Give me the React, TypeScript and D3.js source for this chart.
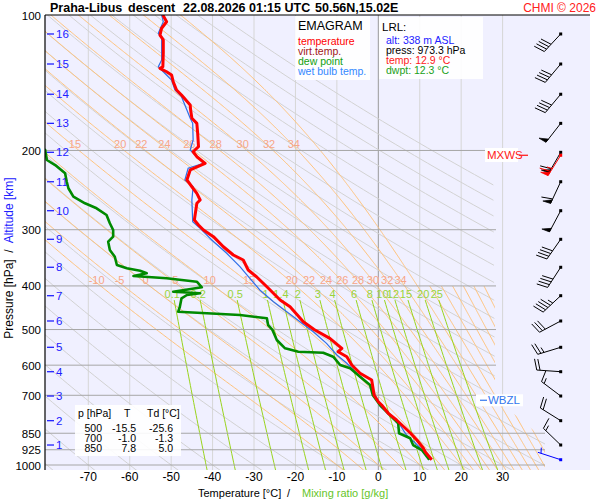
import React from 'react';
import * as d3 from 'd3';

// ---------- DATA ----------
const tempP = [100,103.5,107,110.8,113.6,121.5,130.3,131.4,133.7,135.9,140.7,146.8,150.6,158.5,162.6,169.6,174.1,183.2,196.2,201.3,206.5,213.6,221,232.6,240.8,249,257.7,262.1,285.5,292.9,300.5,310.9,327.3,341.5,350.3,368.7,381.6,401.6,429.9,444.9,480.4,500,523,550.4,560,574.6,599.5,625.5,647.3,700,723.4,735.7,767.6,794.4,850,879.9,918.1,934.3,973.3];
const tempT = [-52.0,-51.1,-52.3,-52.7,-51.9,-51.9,-52.0,-52.7,-51.1,-49.9,-49.5,-48.7,-47.5,-45.4,-45.3,-45.0,-43.8,-43.6,-43.4,-44.7,-43.8,-41.8,-45.4,-46.2,-45.0,-43.8,-43.0,-43.8,-44.4,-43.4,-42.2,-39.8,-37.4,-35.0,-32.6,-31.4,-29.4,-26.9,-23.7,-21.3,-18.1,-15.5,-11.7,-8.8,-9.7,-7.6,-6.4,-4.4,-1.6,-1.0,0.0,0.8,2.4,4.4,7.8,9.3,10.9,11.3,12.9];

const dewP = [196,199.5,210,215.5,224.8,234.7,242.7,253.4,262.1,268.9,278.3,290.3,300.5,310.9,319,332.8,344.5,359.4,365.5,370,375,380.2,384.7,391.5,402.9,412,415.4,419,426.1,444.9,456.4,460.2,464.2,472.1,488.6,500,527.5,550.4,560,562.9,574.6,599.5,609.7,636.5,664.1,700,735.7,774.4,808,850,872.3,902.8,926.2,973.3];
const dewT = [-82.0,-80.4,-80.0,-78.0,-75.6,-75.2,-74.8,-73.6,-70.8,-68.0,-65.6,-64.8,-64.0,-64.0,-65.2,-64.8,-63.6,-63.1,-60.7,-57.5,-55.9,-59.1,-51.1,-43.8,-42.6,-49.5,-43.0,-46.2,-47.5,-47.9,-48.3,-41.4,-33.4,-26.9,-26.6,-25.6,-24.5,-22.5,-19.3,-13.3,-10.9,-9.2,-6.8,-4.4,-2.0,-1.3,0.4,2.8,4.8,5.0,7.7,8.4,10.5,12.3];

const wbP = [100,103.5,109.8,112.6,125.9,130.3,133.7,139.5,146.8,151.9,162.6,169.6,174.1,189.6,199.5,213.6,219.1,232.6,240.8,257.7,288,297.9,316.2,338.5,362.5,384.7,408.4,433.6,456.4,480.4,505.6,536.5,569.6,594.3,625.5,670,742.1,808,857.8,887.7,926.2,973.3];
const wbT = [-52.3,-51.9,-53.1,-52.3,-52.3,-53.1,-51.9,-49.9,-49.1,-47.5,-46.2,-45.4,-44.8,-44.7,-45.4,-42.2,-45.9,-46.7,-44.7,-45.0,-44.8,-43.0,-40.2,-36.6,-33.4,-31.0,-28.6,-25.3,-22.1,-18.9,-15.7,-12.5,-10.0,-7.6,-5.2,-1.6,0.5,5.0,6.8,8.6,10.6,12.5];

const altKm = [1,2,3,4,5,6,7,8,9,10,11,12,13,14,15,16];
const altP = [902.8,797.1,702.6,620.4,547.6,478.6,420.5,363.6,315.1,272.2,234.7,201.9,174.1,150.0,128.5,110.2];

const windP = [973.3,902.8,797.1,702.6,620.4,547.6,478.6,420.5,363.6,315.1,272.2,234.7,201.9,174.1,150.0,128.5,110.2];
const windDir = [288,314,302,307,274,253,242,227,213,215,208,205,210,218,220,220,223];
const windSpd = [5,15,20,15,20,25,30,45,40,40,50,60,60,50,40,40,40];
const mxwsP = 205, mxwsDir = 212, mxwsSpd = 65;
const wbzlP = 718;

const pressureTicks = [100,200,300,400,500,600,700,850,925,1000];
const tempTicks = [-70,-60,-50,-40,-30,-20,-10,0,10,20,30];
const isotherms = [-70,-60,-50,-40,-30,-20,-10,0,10,20,30];
const dryThetaC = d3.range(-80, 181, 10);
const moistThetaW = [-10,-5,0,5,10,15,20,22,24,26,28,30,32,34,36];
const moistThetaWLow = [38,40,42,44,46,48];
const moistLabels400 = [-10,-5,0,5,10,15,20,22,24,26,28,30,32,34];
const moistLabels200 = [15,20,22,24,26,28,30,32,34];
const mixRatios = [0.1,0.2,0.5,1,1.4,2,3,4,6,8,10,12,15,20,25];
const mixLabels = ['0.1','0.2','0.5','1','1.4','2','3','4','6','8','10','12','15','20','25'];

const tableRows = [['500','-15.5','-25.6'],['700','-1.0','-1.3'],['850','7.8','5.0']];

// ---------- SCALES ----------
const x = d3.scaleLinear().domain([-70, 30]).range([88.3, 502.6]);
const y = d3.scaleLog().domain([100, 1000]).range([15, 465]);
const FONT = '"Liberation Sans", Arial, Helvetica, sans-serif';

const esat = (Tc: number) => 6.112 * Math.exp(17.67 * Tc / (Tc + 243.5));
function dTdlnp(p: number, Tk: number) {
  const Rd = 287.04, cp = 1005.7, L = 2.501e6, eps = 0.622;
  const es = esat(Tk - 273.15);
  const rs = eps * es / (p - es);
  return (Rd * Tk + L * rs) / (cp + L * L * rs * eps / (Rd * Tk * Tk));
}
function moistCurve(tw: number): [number, number][] {
  const out: [number, number][] = [];
  const h = 0.005;
  let T = tw + 273.15, lp = Math.log(1000);
  const down: [number, number][] = [];
  while (lp < Math.log(1030)) {
    const k1 = dTdlnp(Math.exp(lp), T);
    const k2 = dTdlnp(Math.exp(lp + h / 2), T + k1 * h / 2);
    T += k2 * h; lp += h;
    down.push([Math.exp(lp), T - 273.15]);
  }
  down.reverse().forEach(d => out.push(d));
  T = tw + 273.15; lp = Math.log(1000);
  out.push([1000, tw]);
  while (lp > Math.log(100)) {
    const k1 = dTdlnp(Math.exp(lp), T);
    const k2 = dTdlnp(Math.exp(lp - h / 2), T - k1 * h / 2);
    T -= k2 * h; lp -= h;
    out.push([Math.exp(lp), T - 273.15]);
  }
  return out;
}
const interpAt = (curve: [number, number][], p: number) => {
  for (let i = 1; i < curve.length; i++) {
    const [p0, t0] = curve[i - 1], [p1, t1] = curve[i];
    if ((p0 - p) * (p1 - p) <= 0) {
      const f = (Math.log(p) - Math.log(p0)) / (Math.log(p1) - Math.log(p0));
      return t0 + f * (t1 - t0);
    }
  }
  return NaN;
};
const logRange = (p0: number, p1: number, n: number) => d3.range(n + 1).map(i => Math.exp(Math.log(p0) + (Math.log(p1) - Math.log(p0)) * i / n));
const mixT = (w: number, p: number) => {
  const e = w * 1e-3 * p / (0.622 + w * 1e-3);
  const l = Math.log(e / 6.112);
  return 243.5 * l / (17.67 - l);
};

const line = d3.line<[number, number]>().x(d => x(d[1])).y(d => y(d[0]));
const zipPT = (P: number[], T: number[]) => P.map((p, i) => [p, T[i]] as [number, number]);

function Barb({ p, dir, spd, color }: { p: number; dir: number; spd: number; color: string }) {
  const px = 560.7, py = y(p);
  const L = 24, fl = 11, sp = 3.3;
  const r = dir * Math.PI / 180;
  const ux = Math.sin(r), uy = -Math.cos(r);
  const vx = -uy, vy = ux;
  const els: React.ReactNode[] = [];
  els.push(<line key="s" x1={px} y1={py} x2={px + ux * L} y2={py + uy * L} stroke={color} strokeWidth={1} />);
  let s = Math.round(spd / 5) * 5;
  let pos = L;
  let k = 0;
  while (s >= 50) {
    const ax = px + ux * pos, ay = py + uy * pos;
    const bx = px + ux * (pos - 4), by = py + uy * (pos - 4);
    const cx = ax + vx * 8 + ux * 1, cy = ay + vy * 8 + uy * 1;
    els.push(<polygon key={'p' + k++} points={`${ax},${ay} ${bx},${by} ${cx},${cy}`} fill={color} stroke={color} strokeWidth={0.7} />);
    pos -= 5; s -= 50;
  }
  while (s >= 10) {
    const ax = px + ux * pos, ay = py + uy * pos;
    els.push(<line key={'f' + k++} x1={ax} y1={ay} x2={ax + vx * fl + ux * 3} y2={ay + vy * fl + uy * 3} stroke={color} strokeWidth={1} />);
    pos -= sp; s -= 10;
  }
  if (s >= 5) {
    if (pos === L) pos -= sp;
    const ax = px + ux * pos, ay = py + uy * pos;
    els.push(<line key={'h' + k++} x1={ax} y1={ay} x2={ax + vx * fl / 2 + ux * 1.5} y2={ay + vy * fl / 2 + uy * 1.5} stroke={color} strokeWidth={1} />);
  }
  els.push(<rect key="d" x={px - 1.5} y={py - 1.5} width={3} height={3} fill={color} />);
  return <g>{els}</g>;
}

export default function App() {
  const fullP = logRange(1030, 100, 120);
  const dryPaths = dryThetaC.map(th => fullP.map(p => [p, (th + 273.15) * Math.pow(p / 1000, 0.2857) - 273.15] as [number, number]));
  const moistCurves = moistThetaW.map(tw => moistCurve(tw));
  const moistLow = moistThetaWLow.map(tw => moistCurve(tw));
  const mixP = logRange(1030, 430, 40);
  const mixPaths = mixRatios.map(w => mixP.map(p => [p, mixT(w, p)] as [number, number]));
  const labelDx = -4;

  return (
    <svg width={600} height={500} style={{ position: 'absolute', left: 0, top: 0, background: '#ffffff' }} fontFamily={FONT}>
      <defs>
        <clipPath id="plotClip"><rect x={45} y={15} width={545} height={455} /></clipPath>
        <clipPath id="diagClip"><polygon points="45,15 492,15 495,398 545,440 545,470 45,470" /></clipPath>
        <clipPath id="lowClip"><polygon points="45,286 495,286 495,398 545,440 545,470 45,470" /></clipPath>
      </defs>
      <rect x={45} y={15} width={545} height={455} fill="#f0f0ff" />

      <g clipPath="url(#plotClip)">
        {isotherms.map(t => (
          <line key={'it' + t} x1={x(t)} x2={x(t)} y1={15} y2={470} stroke={t === 0 ? '#999999' : '#d6d6d6'} strokeWidth={1} />
        ))}
        <g clipPath="url(#diagClip)">
          {dryPaths.map((d, i) => <path key={'dry' + i} d={line(d) || ''} fill="none" stroke="#d2d2d2" strokeWidth={1} />)}
          {moistCurves.map((d, i) => <path key={'ma' + i} d={line(d) || ''} fill="none" stroke="#ffc27a" strokeWidth={1} />)}
        </g>
        <g clipPath="url(#lowClip)">
          {moistLow.map((d, i) => <path key={'ml' + i} d={line(d) || ''} fill="none" stroke="#ffc27a" strokeWidth={1} />)}
        </g>
        {mixPaths.map((d, i) => <path key={'mx' + i} d={line(d) || ''} fill="none" stroke="#99d41c" strokeWidth={1} />)}
        {pressureTicks.filter(p => p > 100).map(p => (
          <line key={'ib' + p} x1={45} x2={p >= 850 ? 545 : 496} y1={y(p)} y2={y(p)} stroke="#a6a6a6" strokeWidth={1} />
        ))}
        {moistLabels400.map(tw => {
          const c = moistCurves[moistThetaW.indexOf(tw)];
          return <text key={'l4' + tw} x={x(interpAt(c, 400)) + labelDx} y={y(400) - 2} fontSize={11} fill="#f7a688" textAnchor="middle">{tw}</text>;
        })}
        {moistLabels200.map(tw => {
          const c = moistCurves[moistThetaW.indexOf(tw)];
          return <text key={'l2' + tw} x={x(interpAt(c, 200)) + labelDx} y={y(200) - 2} fontSize={11} fill="#f7a688" textAnchor="middle">{tw}</text>;
        })}
        {mixRatios.map((w, i) => (
          <text key={'mt' + i} x={x(mixT(w, 430)) - 2} y={298} fontSize={11} fill="#99d43a" textAnchor="middle">{mixLabels[i]}</text>
        ))}

        <path d={line(zipPT(wbP, wbT)) || ''} fill="none" stroke="#2f6fe8" strokeWidth={1.2} />
        <path d={line(zipPT(dewP, dewT)) || ''} fill="none" stroke="#008a00" strokeWidth={2.6} strokeLinejoin="round" />
        <path d={line(zipPT(tempP, tempT)) || ''} fill="none" stroke="#ff0000" strokeWidth={3} strokeLinejoin="round" />

        {windP.map((p, i) => <Barb key={'b' + i} p={p} dir={windDir[i]} spd={windSpd[i]} color={i === 0 ? '#0000ff' : '#000000'} />)}
        <Barb p={mxwsP} dir={mxwsDir} spd={mxwsSpd} color="#ff0000" />
      </g>

      {altKm.map((k, i) => (
        <g key={'alt' + k}>
          <line x1={47} x2={54} y1={y(altP[i])} y2={y(altP[i])} stroke="#2020ff" strokeWidth={1.3} />
          <text x={56} y={y(altP[i]) + 4} fontSize={11.5} fill="#2020ff">{k}</text>
        </g>
      ))}

      <rect x={485} y={148} width={33} height={14} fill="#ffffff" />
      <text x={487} y={159} fontSize={11.5} fill="#ff2020">MXWS</text>
      <line x1={519} x2={528} y1={y(mxwsP)} y2={y(mxwsP)} stroke="#ff2020" strokeWidth={1.3} />
      <rect x={476} y={y(wbzlP) - 6} width={47} height={12} fill="#ffffff" />
      <line x1={480} x2={487} y1={y(wbzlP)} y2={y(wbzlP)} stroke="#3377ee" strokeWidth={1.2} />
      <text x={488} y={y(wbzlP) + 4} fontSize={11.5} fill="#3377ee">WBZL</text>

      <rect x={295} y={16} width={75} height={64} fill="#ffffff" fillOpacity={0.9} />
      <text x={298} y={30} fontSize={12.5} fill="#000">EMAGRAM</text>
      <text x={298} y={45} fontSize={10.5} fill="#ff0000">temperature</text>
      <text x={298} y={55} fontSize={10.5} fill="#a01818">virt.temp.</text>
      <text x={298} y={65} fontSize={10.5} fill="#10a010">dew point</text>
      <text x={298} y={75} fontSize={10.5} fill="#3388ff">wet bulb temp.</text>

      <rect x={379} y={17} width={104} height={62} fill="#ffffff" fillOpacity={0.9} />
      <text x={382} y={31} fontSize={11.5} fill="#000">LRL:</text>
      <text x={386} y={44} fontSize={10.5} fill="#2222ff">alt: 338 m ASL</text>
      <text x={386} y={54} fontSize={10.5} fill="#000">press: 973.3 hPa</text>
      <text x={386} y={64} fontSize={10.5} fill="#ff2020">temp: 12.9 °C</text>
      <text x={386} y={74} fontSize={10.5} fill="#20a020">dwpt: 12.3 °C</text>

      <rect x={75} y={405} width={106} height={51} fill="#ffffff" fillOpacity={0.9} />
      <text x={78} y={417} fontSize={10.5} fill="#000">p [hPa]</text>
      <text x={124} y={417} fontSize={10.5} fill="#000">T</text>
      <text x={147} y={417} fontSize={10.5} fill="#000">Td [°C]</text>
      {tableRows.map((r, i) => (
        <g key={'tr' + i}>
          <text x={102} y={432 + i * 10} fontSize={10.5} textAnchor="end" fill="#000">{r[0]}</text>
          <text x={136} y={432 + i * 10} fontSize={10.5} textAnchor="end" fill="#000">{r[1]}</text>
          <text x={173} y={432 + i * 10} fontSize={10.5} textAnchor="end" fill="#000">{r[2]}</text>
        </g>
      ))}

      <line x1={45} x2={590} y1={15} y2={15} stroke="#000" strokeWidth={1.2} />
      <line x1={45} x2={45} y1={15} y2={470} stroke="#000" strokeWidth={1.2} />
      {pressureTicks.map(p => (
        <text key={'pt' + p} x={41} y={y(p) + 4.5} fontSize={11.5} textAnchor="end" fill="#000">{p}</text>
      ))}
      {tempTicks.map(t => (
        <text key={'tt' + t} x={x(t)} y={481} fontSize={12} textAnchor="middle" fill="#000">{t}</text>
      ))}
      <text x={198} y={497} fontSize={11} fill="#000">Temperature [°C]</text>
      <text x={287} y={497} fontSize={11} fill="#000">/</text>
      <text x={302} y={497} fontSize={11} fill="#66c52a">Mixing ratio [g/kg]</text>
      <text transform="translate(13,258) rotate(-90)" fontSize={12} textAnchor="middle" style={{ whiteSpace: 'pre' }}>
        <tspan fill="#000">Pressure [hPa]  /  </tspan>
        <tspan fill="#2020ff">Altitude [km]</tspan>
      </text>

      <text x={50} y={12} fontSize={12.5} fontWeight="bold" fill="#000">Praha-Libus</text>
      <text x={128} y={12} fontSize={12.5} fontWeight="bold" fill="#000">descent</text>
      <text x={183} y={12} fontSize={12.5} fontWeight="bold" fill="#000">22.08.2026 01:15 UTC</text>
      <text x={315} y={12} fontSize={12.5} fontWeight="bold" fill="#000">50.56N,15.02E</text>
      <text x={596} y={12} fontSize={12} fill="#ff2020" textAnchor="end">CHMI © 2026</text>
    </svg>
  );
}
